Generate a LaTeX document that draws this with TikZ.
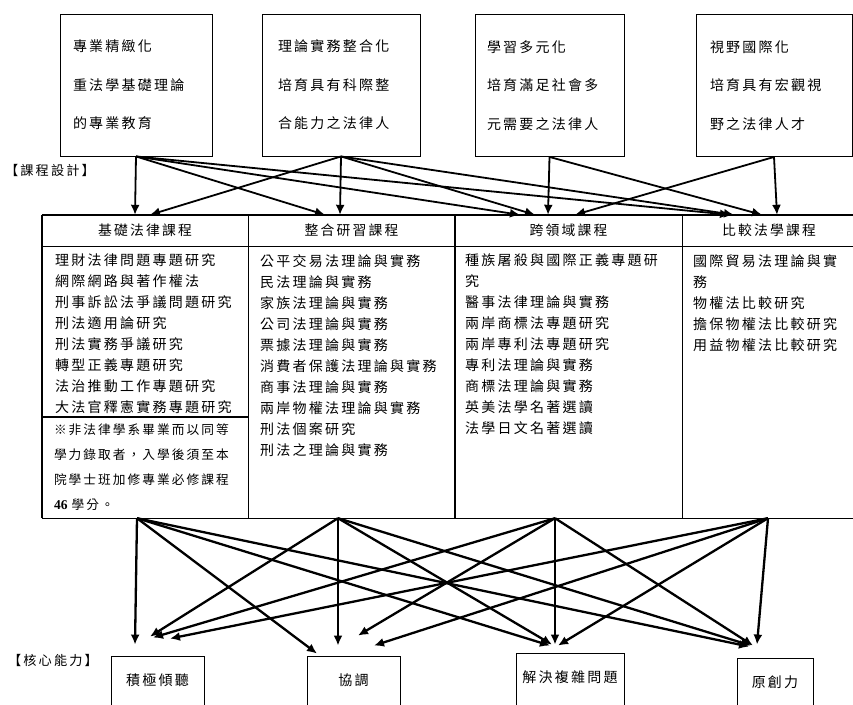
\documentclass[tikz,border=0pt]{standalone}
\usepackage{fontspec}
\setmainfont{Noto Sans CJK TC}[LetterSpace = 16]
\newfontfamily\numfont{Liberation Serif}
\usetikzlibrary{arrows.meta}

\tikzset{
	goal/.style = {draw, line width = 0.9pt, minimum height = 142pt, inner xsep = 0pt, inner ysep = 0pt, align = left, font = \fontsize{14}{38.5}\selectfont},
	head/.style = {minimum height = 31pt, inner sep = 0pt, font = \fontsize{13.8}{16}\selectfont},
	list/.style = {anchor = north west, inner sep = 0pt, align = left, font = \fontsize{14}{21}\selectfont},
	note/.style = {inner sep = 0pt, align = left, font = \fontsize{12.7}{25}\selectfont},
	skill/.style = {draw, line width = 0.9pt, minimum height = 60pt, text height = 10pt, text depth = 12pt, inner sep = 0pt, font = \fontsize{14}{16}\selectfont},
	tag/.style = {inner sep = 0pt, font = \fontsize{13.2}{16}\selectfont},
	link/.style = {->, line width = 1.8pt}
}

\begin{document}
\begin{tikzpicture}[x = 1pt, y = -1pt, > = {Latex[length = 10pt, width = 9pt]}]

	\useasboundingbox (0, 0) rectangle (853, 704);

	% Goals
	
	\node [goal, minimum width = 152pt, text width = 126pt] (pro) at (136, 85) {專業精緻化\\重法學基礎理論\\的專業教育};
	\node [goal, minimum width = 158pt, text width = 126pt] (unify) at (341, 85) {理論實務整合化\\培育具有科際整\\合能力之法律人};
	\node [goal, minimum width = 149pt, text width = 125pt] (multi) at (549.5, 85.5) {學習多元化\\培育滿足社會多\\元需要之法律人};
	\node [goal, minimum width = 156pt, text width = 128pt] (world) at (774, 85.5) {視野國際化\\培育具有宏觀視\\野之法律人才};
	
	\node [tag] (design) at (50, 170) {【課程設計】};
	
	% Course table
	
	\node [head, minimum width = 206pt] (basic) at (145, 230.5) {基礎法律課程};
	\node [head, minimum width = 207pt] (integ) at (351.5, 230.5) {整合研習課程};
	\node [head, minimum width = 227pt] (cross) at (568.5, 230.5) {跨領域課程};
	\node [head, minimum width = 174pt] (comp) at (769, 230.5) {比較法學課程};
	
	\node [list] (basic-list) at (55, 254) {理財法律問題專題研究\\網際網路與著作權法\\刑事訴訟法爭議問題研究\\刑法適用論研究\\刑法實務爭議研究\\轉型正義專題研究\\法治推動工作專題研究\\大法官釋憲實務專題研究};
	\node [list] (integ-list) at (260, 254) {公平交易法理論與實務\\民法理論與實務\\家族法理論與實務\\公司法理論與實務\\票據法理論與實務\\消費者保護法理論與實務\\商事法理論與實務\\兩岸物權法理論與實務\\刑法個案研究\\刑法之理論與實務};
	\node [list] (cross-list) at (465, 254) {種族屠殺與國際正義專題研\\究\\醫事法律理論與實務\\兩岸商標法專題研究\\兩岸專利法專題研究\\專利法理論與實務\\商標法理論與實務\\英美法學名著選讀\\法學日文名著選讀};
	\node [list] (comp-list) at (693, 254) {國際貿易法理論與實\\務\\物權法比較研究\\擔保物權法比較研究\\用益物權法比較研究};
	
	\node [note, minimum width = 206pt, minimum height = 101pt, text width = 182pt] (basic-note) at (145, 467.5) {※非法律學系畢業而以同等\\學力錄取者，入學後須至本\\院學士班加修專業必修課程\\{\numfont\bfseries\fontsize{13.5}{25}\selectfont 46} 學分。};
	
	\draw [line width = 2.2pt] (basic.north west) -- (comp.north east);
	\draw [line width = 0.9pt] (basic.south west) -- (comp.south east);
	\draw [line width = 2pt] (basic.north west) -- (basic.north west |- basic-note.south);
	\draw [line width = 1.2pt] (basic.north east) -- (basic.north east |- basic-note.south);
	\draw [line width = 2pt] (integ.north east) -- (integ.north east |- basic-note.south);
	\draw [line width = 1.2pt] (cross.north east) -- (cross.north east |- basic-note.south);
	\draw [line width = 2pt] (basic-note.north west) -- (basic-note.north east);
	\draw [line width = 1.2pt] (basic-note.south west) -- (comp.south east |- basic-note.south);
	
	% Goals to courses
	
	\foreach \src/\dst/\dx in {pro/basic/-10, unify/basic/5, pro/integ/-26.5, unify/integ/-11.5, pro/cross/-48.5, unify/cross/-33.5, multi/cross/-20.5, world/cross/6.5, pro/comp/-39, unify/comp/-35, multi/comp/-7, world/comp/8}
		\draw [link] (\src.south) -- ([xshift = \dx]\dst.north);
	
	% Core abilities
	
	\node [tag] (core) at (53, 660) {【核心能力】};
	
	\node [skill, minimum width = 93pt] (listen) at (157.5, 686) {積極傾聽};
	\node [skill, minimum width = 93pt] (coord) at (353.5, 686) {協調};
	\node [skill, minimum width = 108pt] (solve) at (570, 683) {解決複雜問題};
	\node [skill, minimum width = 76pt] (create) at (775, 688) {原創力};
	
	% Courses to abilities
	
	\coordinate (basic-foot) at ([xshift = -8]basic-note.south);
	\coordinate (integ-foot) at ([xshift = -13.5]integ.south |- basic-note.south);
	\coordinate (cross-foot) at ([xshift = -13.5]cross.south |- basic-note.south);
	\coordinate (comp-foot) at ([xshift = -1]comp.south |- basic-note.south);
	
	\foreach \src/\dst/\dx/\dy in {basic/listen/-22.5/11, integ/listen/-7.5/19, cross/listen/-4.5/18, comp/listen/12.5/17,
		basic/coord/-36.5/2, integ/coord/-15.5/10, cross/coord/4.5/20, comp/coord/20.5/10,
		basic/solve/-20/7, integ/solve/-18/8, cross/solve/-15/8, comp/solve/-12/7,
		basic/create/-26/11, integ/create/-24/12, cross/create/-22/12, comp/create/-18/13}
		\draw [link, line width = 2.3pt] (\src-foot) -- ([xshift = \dx, yshift = \dy]\dst.north);

\end{tikzpicture}
\end{document}
